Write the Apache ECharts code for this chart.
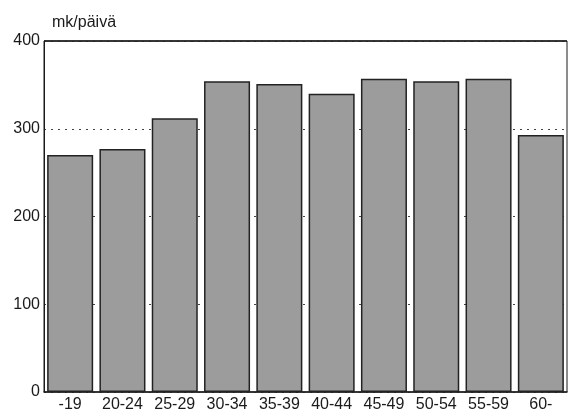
<!DOCTYPE html>
<html>
<head>
<meta charset="utf-8">
<script src="https://cdn.jsdelivr.net/npm/echarts@6/dist/echarts.min.js"></script>
<style>
  html, body { margin: 0; padding: 0; background: #fff; }
  #main { width: 569px; height: 413px; }
</style>
</head>
<body>
<div id="main"></div>
<script>
// ikäryhmät ja keskiarvot (mk/päivä)
const categories = ['-19', '20-24', '25-29', '30-34', '35-39', '40-44', '45-49', '50-54', '55-59', '60-']
const values = [270, 277, 312, 354, 351, 340, 357, 354, 357, 293]
const yTicks = [0, 100, 200, 300, 400]

const chart = echarts.init(document.getElementById('main'))

const option = {
  animation: false,
  backgroundColor: '#fff',
  textStyle: { fontFamily: 'Liberation Sans, Arial, sans-serif' },
  title: {
    text: 'mk/päivä',
    left: 47,
    top: 10,
    textStyle: { fontSize: 16, fontWeight: 'normal', color: '#1a1a1a' }
  },
  grid: {
    left: 44,
    right: 2,
    top: 41,
    bottom: 21,
    show: true,
    borderColor: '#1a1a1a',
    borderWidth: 1
  },
  xAxis: {
    type: 'category',
    data: categories,
    axisLine: { lineStyle: { color: '#1a1a1a', width: 1.5 } },
    axisTick: { show: false },
    axisLabel: { color: '#1a1a1a', fontSize: 16, margin: 5, interval: 0 }
  },
  yAxis: {
    type: 'value',
    min: yTicks[0],
    max: yTicks[yTicks.length - 1],
    interval: 100,
    axisLine: { show: true, lineStyle: { color: '#1a1a1a' } },
    axisTick: { show: false },
    axisLabel: { color: '#1a1a1a', fontSize: 16, margin: 4 },
    splitLine: {
      show: true,
      lineStyle: { type: [2, 5], color: '#444', width: 1.2 }
    }
  },
  series: [
    {
      type: 'bar',
      data: values,
      barCategoryGap: '12%',
      itemStyle: {
        color: '#9c9c9c',
        borderColor: '#222',
        borderWidth: 1.5
      },
      // kehyksen yläreuna kiinteänä viivana
      markLine: {
        silent: true,
        symbol: 'none',
        label: { show: false },
        lineStyle: { type: 'solid', color: '#1a1a1a', width: 1.5 },
        data: [{ yAxis: yTicks[yTicks.length - 1] }]
      }
    }
  ]
}

chart.setOption(option)
</script>
</body>
</html>
